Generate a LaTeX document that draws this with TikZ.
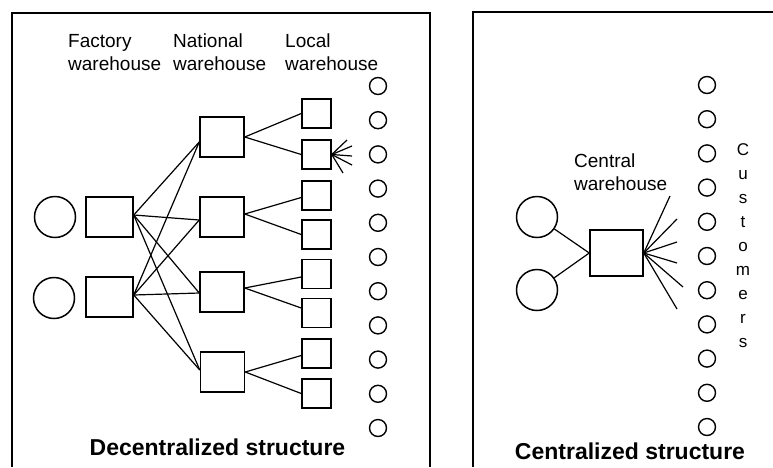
\documentclass[tikz,border=0pt]{standalone}
\usepackage{fontspec}
\setmainfont{Liberation Sans}
\begin{document}
\begin{tikzpicture}[x=1pt,y=-1pt,
  shp/.style={draw,line width=1.5pt,inner sep=0pt},
  fbox/.style={shp,rectangle,minimum width=47pt,minimum height=40pt},
  nbox/.style={shp,rectangle,minimum width=44pt,minimum height=40pt},
  lbox/.style={shp,rectangle,minimum width=29pt,minimum height=29pt},
  cbox/.style={shp,rectangle,minimum width=53pt,minimum height=46pt},
  src/.style={shp,circle,minimum size=41pt},
  cust/.style={draw,line width=1.4pt,circle,inner sep=0pt,minimum size=17pt},
  lab/.style={inner sep=0pt,anchor=base west,font=\fontsize{19}{23}\selectfont},
  let/.style={inner sep=0pt,anchor=base,font=\fontsize{17}{20}\selectfont},
  ttl/.style={inner sep=0pt,anchor=base,font=\fontsize{23}{27}\selectfont\bfseries},
  edge/.style={line width=1.2pt},
  frame/.style={line width=1.2pt}]
\useasboundingbox (0,0) rectangle (773,467);
% frames
\coordinate (la) at (12,467); \coordinate (lb) at (12,13);
\coordinate (lc) at (430,13); \coordinate (ld) at (430,467);
\draw[frame] (la) -- (lb) -- (lc) -- (ld);
\coordinate (ra) at (473,467); \coordinate (rb) at (473,12);
\coordinate (rc) at (773,12);
\draw[frame] (ra) -- (rb) -- (rc);
% labels left
\node[lab] (t1a) at (68,47) {Factory};
\node[lab] (t1b) at (68,70) {warehouse};
\node[lab] (t2a) at (173,47) {National};
\node[lab] (t2b) at (173,70) {warehouse};
\node[lab] (t3a) at (285,47) {Local};
\node[lab] (t3b) at (285,70) {warehouse};
% factories
\node[src] (s1) at (55,217) {};
\node[src] (s2) at (54,298) {};
\node[fbox] (f1) at (109.5,217) {};
\node[fbox] (f2) at (109.5,297) {};
% nationals
\node[nbox] (n1) at (222,137) {};
\node[nbox] (n2) at (222,217) {};
\node[nbox] (n3) at (222,292) {};
\node[nbox] (n4) at (222.5,372) {};
% locals
\foreach \i/\y in {1/113.5,2/154.5,3/195.5,4/234.5,5/274,6/313,7/353.5,8/393.5}
  \node[lbox] (l\i) at (316.5,\y) {};
% customers left
\foreach \i in {0,...,10}
  \node[cust] (cl\i) at (378,{86+34.2*\i}) {};
% factory to national edges
\coordinate (n1w) at ([yshift=-5pt]n1.west);
\coordinate (n2w) at ([yshift=-3pt]n2.west);
\coordinate (n3w) at ([yshift=-1pt]n3.west);
\coordinate (n4w) at ([yshift=2pt]n4.west);
\coordinate (f1e) at ([yshift=2pt]f1.east);
\coordinate (f2e) at ([yshift=2pt]f2.east);
\foreach \f in {f1e,f2e}
  \foreach \n in {n1w,n2w,n3w,n4w}
    \draw[edge] (\f) -- (\n);
% national to local
\draw[edge] (n1.east) -- (l1.west);
\draw[edge] (n1.east) -- (l2.west);
\draw[edge] ([yshift=3pt]n2.east) -- ([yshift=-2pt]l3.west);
\draw[edge] ([yshift=3pt]n2.east) -- (l4.west);
\draw[edge] ([yshift=4pt]n3.east) -- ([yshift=-3pt]l5.west);
\draw[edge] ([yshift=4pt]n3.east) -- ([yshift=5pt]l6.west);
\draw[edge] (n4.east) -- ([yshift=-2pt]l7.west);
\draw[edge] (n4.east) -- (l8.west);
% fan on local 2
\coordinate (fa1) at (347,140);
\coordinate (fa2) at (352,146);
\coordinate (fa3) at (352,156);
\coordinate (fa4) at (352,165);
\coordinate (fa5) at (343,173);
\foreach \c in {fa1,fa2,fa3,fa4,fa5}
  \draw[edge] (l2.east) -- (\c);
\node[ttl] (tl) at (217.5,455) {Decentralized structure};
% right panel
\node[src] (c1) at (537,217) {};
\node[src] (c2) at (537,290) {};
\node[cbox] (cw) at (616.5,253) {};
\draw[edge] (c1) -- (cw.west);
\draw[edge] (c2) -- (cw.west);
\node[lab] (ct1) at (574,167) {Central};
\node[lab] (ct2) at (574,190) {warehouse};
\coordinate (fb1) at (670,196);
\coordinate (fb2) at (677,219);
\coordinate (fb3) at (677,242);
\coordinate (fb4) at (677,263);
\coordinate (fb5) at (683,287);
\coordinate (fb6) at (677,309);
\foreach \c in {fb1,fb2,fb3,fb4,fb5,fb6}
  \draw[edge] (cw.east) -- (\c);
\foreach \i in {0,...,10}
  \node[cust] (cr\i) at (707,{85+34.2*\i}) {};
\foreach \ch [count=\k from 0] in {C,u,s,t,o,m,e,r,s}
  \node[let] (cu\k) at (743,{155+24*\k}) {\ch};
\node[ttl] (tr) at (630,459) {Centralized structure};
\end{tikzpicture}
\end{document}
